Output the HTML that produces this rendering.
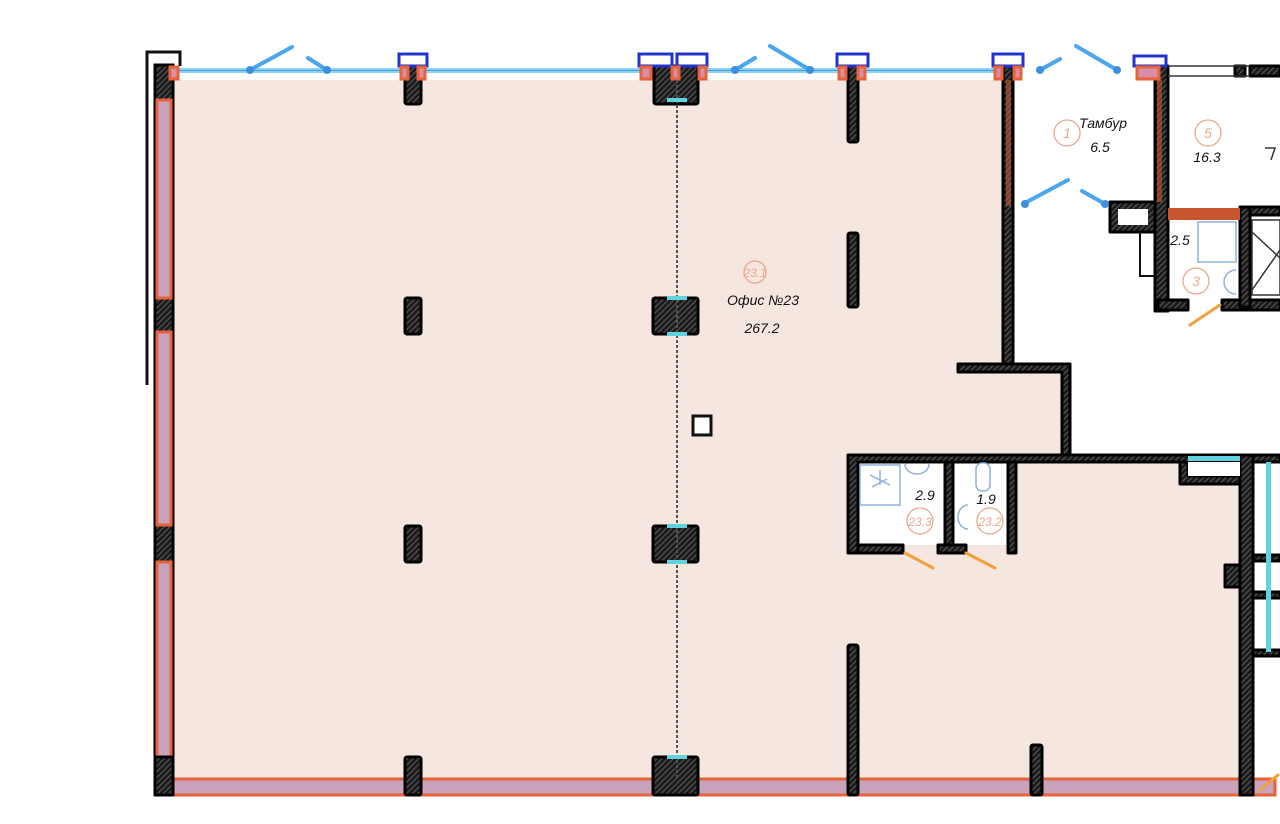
<!DOCTYPE html>
<html><head><meta charset="utf-8"><style>
html,body{margin:0;padding:0;background:#fff;width:1280px;height:824px;overflow:hidden}
svg{display:block}
text{font-family:"Liberation Sans",sans-serif;font-style:italic}
</style></head><body>
<svg width="1280" height="824" viewBox="0 0 1280 824" xmlns="http://www.w3.org/2000/svg">
<defs>
<pattern id="h" width="4" height="4" patternUnits="userSpaceOnUse" patternTransform="rotate(45)">
<rect width="4" height="4" fill="#1a1a1a"/><rect width="1.2" height="4" fill="#555"/></pattern>
</defs>
<path d="M173 80 H1005 V372 H1062 V460 H1245 V780 H173 Z" fill="#f5e7df"/>
<rect x="856" y="462" width="90" height="83" fill="#fff"/>
<rect x="953" y="462" width="56" height="83" fill="#fff"/>
<rect x="173" y="68" width="835" height="5" fill="#8ed3f2"/>
<line x1="173" y1="70.5" x2="1008" y2="70.5" stroke="#3d9ee6" stroke-width="1"/>
<path d="M147 385 V52 H180 V66" fill="none" stroke="#111" stroke-width="3"/>
<rect x="155" y="65" width="18" height="730" fill="url(#h)" stroke="#000" stroke-width="3"/>
<g fill="#c9a3bd" stroke="#e8623a" stroke-width="3">
<rect x="157" y="100" width="14" height="198"/>
<rect x="157" y="332" width="14" height="193"/>
<rect x="157" y="562" width="14" height="196"/>
</g>
<rect x="155" y="779" width="1120" height="16" fill="#c9a3bd" stroke="#e8623a" stroke-width="3"/>
<g fill="url(#h)" stroke="#000" stroke-width="3" stroke-linejoin="round">
<rect x="405" y="66" width="16" height="38" rx="2"/>
<rect x="654" y="66" width="44" height="38" rx="2"/>
<rect x="848" y="66" width="10" height="76" rx="2"/>
<rect x="405" y="298" width="16" height="36" rx="2"/>
<rect x="653" y="298" width="45" height="36" rx="2"/>
<rect x="405" y="526" width="16" height="36" rx="2"/>
<rect x="653" y="526" width="45" height="36" rx="2"/>
<rect x="848" y="233" width="10" height="74" rx="2"/>
<rect x="848" y="645" width="10" height="150" rx="2"/>
<rect x="1031" y="745" width="11" height="50" rx="2"/>
<rect x="405" y="757" width="16" height="38" rx="2"/>
<rect x="653" y="757" width="45" height="38" rx="2"/>
<rect x="155" y="757" width="18" height="38"/>
<rect x="1003" y="66" width="10" height="300"/>
<path d="M958 364 H1070 V455 H1062 V372 H958 Z"/>
<path d="M848 455 H1245 V462 H858 V553 H848 Z"/>
<rect x="945" y="462" width="8" height="91"/>
<rect x="1008" y="462" width="8" height="91"/>
<rect x="858" y="545" width="45" height="8"/>
<rect x="938" y="545" width="28" height="8"/>
<rect x="1240" y="455" width="13" height="340"/>
<path d="M1180 462 H1188 V476 H1240 V484 H1180 Z"/>
<rect x="1225" y="565" width="15" height="22"/>
<rect x="1253" y="555" width="27" height="6"/>
<rect x="1253" y="592" width="27" height="6"/>
<rect x="1253" y="650" width="27" height="6"/>
<rect x="1253" y="455" width="27" height="7"/>
<rect x="1155" y="66" width="13" height="245"/>
<rect x="1158" y="300" width="30" height="10"/>
<rect x="1222" y="300" width="58" height="10"/>
<rect x="1240" y="207" width="10" height="100"/>
<rect x="1250" y="207" width="30" height="8"/>
<rect x="1235" y="66" width="10" height="10"/>
<rect x="1250" y="66" width="30" height="10"/>
<rect x="1110" y="202" width="45" height="30"/>
</g>
<rect x="1118" y="209" width="30" height="16" fill="#fff"/>
<rect x="1168" y="208" width="72" height="12" fill="#c8562e"/>
<rect x="1188" y="462" width="52" height="14" fill="#fff"/>
<path d="M1140 232 V276 H1155" fill="none" stroke="#111" stroke-width="2"/>
<rect x="1006" y="80" width="5" height="126" fill="#c8562e" opacity="0.6"/>
<rect x="1157" y="80" width="5" height="122" fill="#c8562e" opacity="0.6"/>
<rect x="1188" y="456" width="52" height="5" fill="#5fd3e0"/>
<rect x="1266" y="462" width="5" height="190" fill="#5fd3e0"/>
<g fill="#fff" stroke="#2233cc" stroke-width="3">
<rect x="399" y="54" width="28" height="12"/>
<rect x="639" y="54" width="33" height="12"/>
<rect x="677" y="54" width="30" height="12"/>
<rect x="837" y="54" width="31" height="12"/>
<rect x="993" y="54" width="30" height="12"/>
<rect x="1134" y="56" width="32" height="10"/>
</g>
<g fill="#d78fa6" stroke="#e8623a" stroke-width="3">
<rect x="170" y="67" width="8" height="12"/><rect x="401" y="67" width="7" height="12"/><rect x="418" y="67" width="7" height="12"/>
<rect x="641" y="67" width="10" height="12"/><rect x="672" y="67" width="7" height="12"/><rect x="699" y="67" width="7" height="12"/>
<rect x="839" y="67" width="7" height="12"/><rect x="858" y="67" width="7" height="12"/>
<rect x="995" y="67" width="7" height="12"/><rect x="1014" y="67" width="7" height="12"/>
<rect x="1137" y="67" width="22" height="12"/>
</g>
<line x1="677" y1="80" x2="677" y2="780" stroke="#555" stroke-width="2" stroke-dasharray="3 2"/>
<g fill="#5fd3e0"><rect x="667" y="98" width="20" height="4"/><rect x="667" y="296" width="20" height="4"/><rect x="667" y="332" width="20" height="4"/><rect x="667" y="524" width="20" height="4"/><rect x="667" y="560" width="20" height="4"/><rect x="667" y="755" width="20" height="4"/></g>
<path d="M1168 66 H1250 M1168 76 H1250" stroke="#333" stroke-width="1.5"/>
<g stroke="#4aa6ee" stroke-width="4" stroke-linecap="round" fill="#3d8fe0">
<line x1="250" y1="70" x2="292" y2="47"/><line x1="327" y1="70" x2="308" y2="58"/>
<line x1="735" y1="70" x2="755" y2="58"/><line x1="810" y1="70" x2="770" y2="46"/>
<line x1="1040" y1="70" x2="1060" y2="59"/><line x1="1117" y1="70" x2="1076" y2="46"/>
<line x1="1023" y1="204" x2="1068" y2="180"/><line x1="1105" y1="204" x2="1082" y2="191"/>
</g>
<g fill="#3d8fe0"><circle cx="250" cy="70" r="4"/><circle cx="327" cy="70" r="4"/><circle cx="735" cy="70" r="4"/><circle cx="810" cy="70" r="4"/><circle cx="1040" cy="70" r="4"/><circle cx="1117" cy="70" r="4"/><circle cx="1025" cy="204" r="4"/><circle cx="1105" cy="204" r="4"/></g>
<g stroke="#f0a040" stroke-width="3" stroke-linecap="round">
<line x1="905" y1="553" x2="933" y2="568"/><line x1="966" y1="553" x2="995" y2="568"/><line x1="1220" y1="305" x2="1190" y2="325"/><line x1="1260" y1="790" x2="1278" y2="775"/>
</g>
<rect x="693" y="416" width="18" height="19" fill="#fff" stroke="#111" stroke-width="3"/>
<g fill="none" stroke="#8fb2dd" stroke-width="1.5">
<rect x="860" y="465" width="40" height="40"/><path d="M870 475 l20 10 M872 487 l15 -8 M880 470 v15"/>
<path d="M905 464 a12 10 0 0 0 24 0"/>
<rect x="976" y="463" width="14" height="28" rx="6"/>
<path d="M968 505 a10 12 0 0 0 0 24"/>
<rect x="1198" y="222" width="38" height="40"/><path d="M1236 270 a12 12 0 0 0 0 24"/>
</g>
<g fill="none" stroke="#333" stroke-width="1.5"><rect x="1252" y="220" width="28" height="75"/><path d="M1252 290 L1280 250 M1252 232 L1280 258"/><path d="M1265 148 l10 0 l-4 12"/></g>
<g fill="none" stroke="#eaa88e" stroke-width="1.3">
<circle cx="755" cy="272" r="11"/><circle cx="1067" cy="133" r="13"/><circle cx="1208" cy="133" r="13"/><circle cx="1196" cy="281" r="13"/>
<circle cx="920" cy="521" r="13"/><circle cx="990" cy="521" r="13"/>
</g>
<g fill="#eaa88e" font-size="12" text-anchor="middle">
<text x="755" y="277">23.1</text><text x="1067" y="138" font-size="14">1</text><text x="1208" y="138" font-size="14">5</text><text x="1196" y="286" font-size="14">3</text>
<text x="920" y="526">23.3</text><text x="990" y="526">23.2</text>
</g>
<g fill="#111" font-size="14" text-anchor="middle">
<text x="763" y="305">Офис №23</text><text x="762" y="333">267.2</text>
<text x="1103" y="128">Тамбур</text><text x="1100" y="152">6.5</text><text x="1207" y="162">16.3</text>
<text x="1180" y="245">2.5</text><text x="925" y="500">2.9</text><text x="986" y="504">1.9</text>
</g>
</svg>
</body></html>
